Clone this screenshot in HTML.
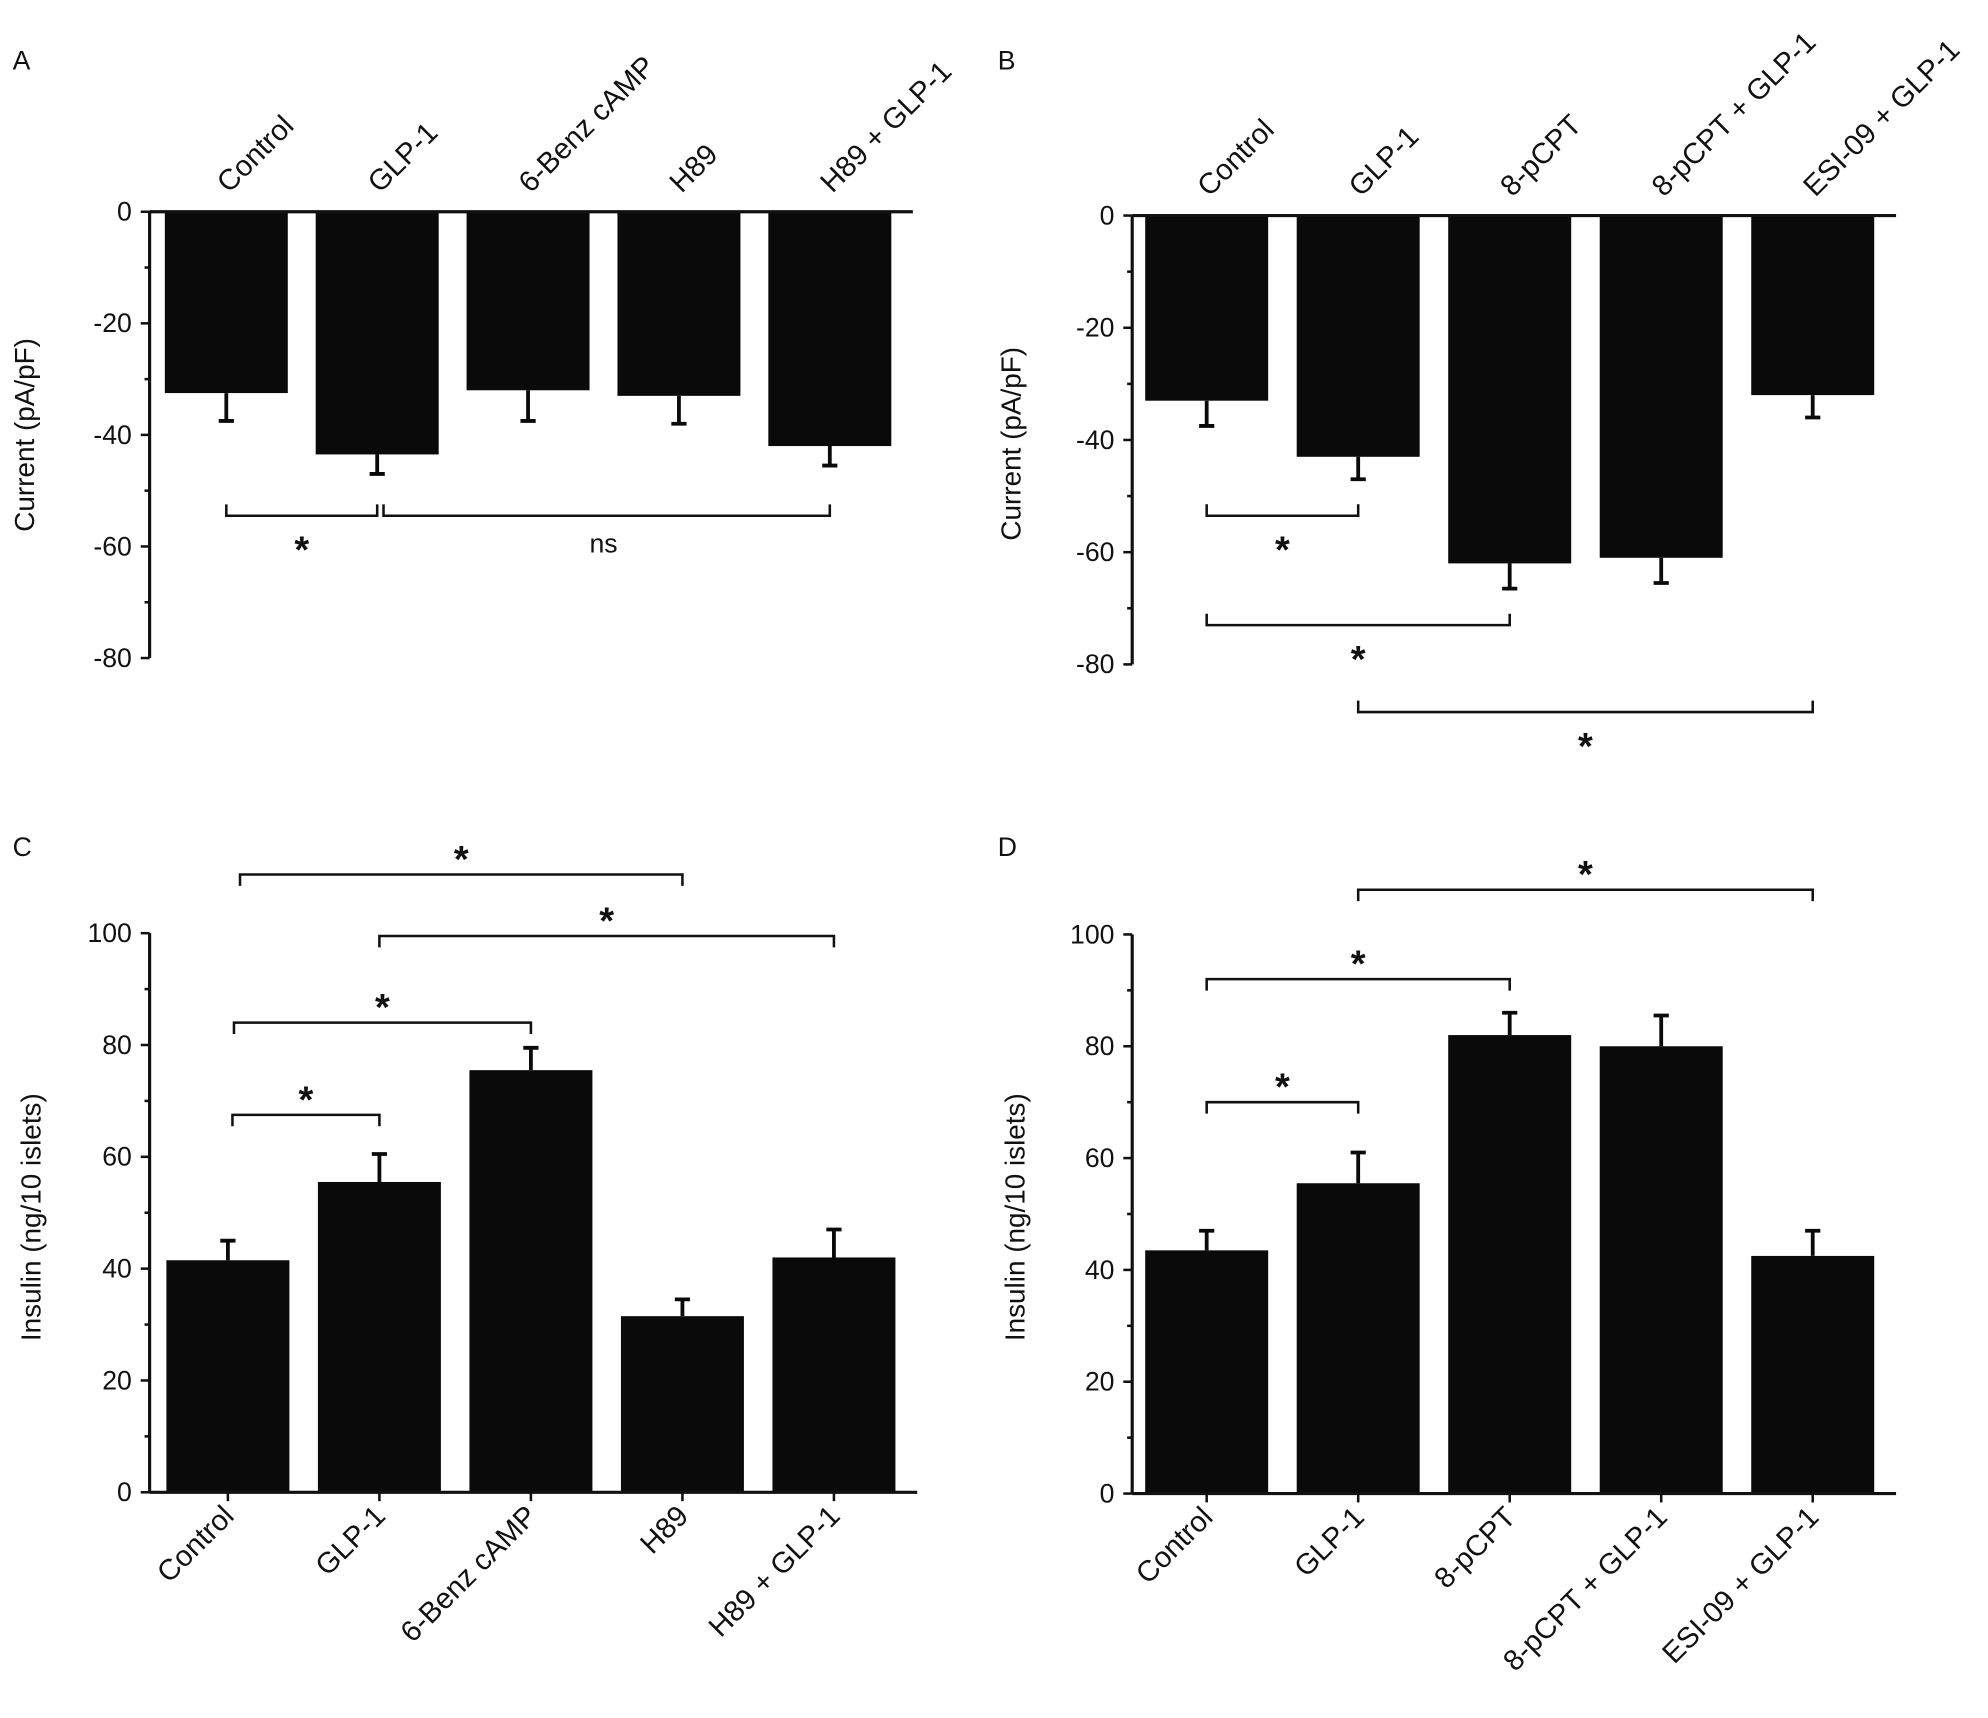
<!DOCTYPE html>
<html><head><meta charset="utf-8"><style>
html,body{margin:0;padding:0;background:#fff}
svg{display:block}
text{font-family:"Liberation Sans",Arial,sans-serif;fill:#111}
</style></head><body>
<svg id="fig" width="1988" height="1718" viewBox="0 0 1568 1355" xmlns="http://www.w3.org/2000/svg"></svg>
<script>
const catsAC = ["Control","GLP-1","6-Benz cAMP","H89","H89 + GLP-1"];
const catsBD = ["Control","GLP-1","8-pCPT","8-pCPT + GLP-1","ESI-09 + GLP-1"];
const valsA = [-32.5,-43.5,-32,-33,-42];
const errA = [-37.5,-47,-37.5,-38,-45.5];
const valsB = [-33,-43,-62,-61,-32];
const errB = [-37.5,-47,-66.5,-65.5,-36];
const valsC = [41.5,55.5,75.5,31.5,42];
const errC = [45,60.5,79.5,34.5,47];
const valsD = [43.5,55.5,82,80,42.5];
const errD = [47,61,86,85.5,47];
const ticksNeg = [0,-20,-40,-60,-80];
const ticksPos = [0,20,40,60,80,100];
// brackets: [fromIndex, toIndex, yValue, label]
const brA = [[0,1,-54.5,"*"],[1,4,-54.5,"ns"]];
const brB = [[0,1,-53.5,"*"],[0,2,-73,"*"],[1,4,-88.5,"*"]];
const brC = [[0.08,3,110.5,"*"],[1,4,99.5,"*"],[0.04,2,84,"*"],[0.03,1,67.5,"*"]];
const brD = [[1,4,108,"*"],[0,2,92,"*"],[0,1,70,"*"]];

const NS="http://www.w3.org/2000/svg";
const svg=document.getElementById('fig');
function el(tag,attrs,parent){const e=document.createElementNS(NS,tag);for(const k in attrs)e.setAttribute(k,attrs[k]);(parent||svg).appendChild(e);return e;}

function panel(o){
  const g=el('g',{});
  
  
  const y=v=>o.y0+(v-0)*(o.y1-o.y0)/(o.v1);
  const xc=i=>o.x0+o.step*(i+0.5);
  const bw=97;
  o.vals.forEach((v,i)=>{
    const ya=y(0),yb=y(v);
    const r=el('rect',{x:xc(i)-bw/2,y:Math.min(ya,yb),width:bw,height:Math.abs(yb-ya),fill:'#0a0a0a'},g);
    
    
    const ye=y(o.err[i]);
    const eb=el('path',{d:`M${xc(i)} ${yb} V${ye} M${xc(i)-6} ${ye} H${xc(i)+6}`,stroke:'#0a0a0a','stroke-width':3,fill:'none'},g);
    
    
  });
  const ymin=Math.min(...o.ticks),ymax=Math.max(...o.ticks);
  const ax=el('line',{x1:o.ax,x2:o.ax,y1:y(ymax),y2:y(ymin),stroke:'#111','stroke-width':2.5},g);
  
  
  for(let v=ymin;v<=ymax;v+=10){
    const major=o.ticks.includes(v);
    el('line',{x1:o.ax-(major?7:4),x2:o.ax,y1:y(v),y2:y(v),stroke:'#111','stroke-width':2},g);
  }
  o.ticks.forEach(v=>{
    const t=el('text',{x:o.ax-14,y:y(v)+7,'text-anchor':'end','font-size':21},g);
    t.textContent=v;
    
    
  });
  const xa=el('line',{x1:o.ax,x2:o.x0+o.step*5+6,y1:y(0),y2:y(0),stroke:'#111','stroke-width':2.5},g);
  
  
  o.cats.forEach((c,i)=>{
    const top=o.top;
    const lx=xc(i)+(top?2:6), ly=top?y(0)-14:y(0)+20;
    if(!top) el('line',{x1:xc(i),x2:xc(i),y1:y(0),y2:y(0)+7,stroke:'#111','stroke-width':2},g);
    const t=el('text',{x:lx,y:ly,'font-size':23,'text-anchor':top?'start':'end',transform:`rotate(-45 ${lx} ${ly})`},g);
    t.textContent=c;
    
    
  });
  const tt=el('text',{x:o.tx,y:o.ty,'font-size':22,'text-anchor':'middle',transform:`rotate(-90 ${o.tx} ${o.ty})`},g);
  tt.textContent=o.title;
  
  
  const L=el('text',{x:o.lx,y:o.ly,'font-size':21},g);
  L.textContent=o.letter;
  
  
  o.br.forEach(b=>{
    const xa1=xc(0)+(xc(1)-xc(0))*b[0], xb1=xc(0)+(xc(1)-xc(0))*b[1];
    const yy=y(b[2]); const d=o.top?-9:9;
    const p=el('path',{d:`M${xa1+(b[3]=="ns"&&b[0]>0?5:0)} ${yy+d} V${yy} H${xb1} V${yy+d}`,stroke:'#111','stroke-width':2,fill:'none'},g);
    
    
    const mx=(xa1+xb1)/2;
    const st=el('text',{x:mx,y:o.top?yy+(b[3]=="ns"?29:37):yy-2,'text-anchor':'middle','font-size':b[3]=="ns"?21:30,'font-weight':b[3]=="ns"?'normal':'bold'},g);
    st.textContent=b[3];
    
    
  });
}
panel({letter:'A',lx:10,ly:55,cats:catsAC,vals:valsA,err:errA,ticks:ticksNeg,y0:167,y1:519,v1:-80,ax:118,x0:119,step:119,top:true,br:brA,title:'Current (pA/pF)',tx:27,ty:343});
panel({letter:'B',lx:787,ly:55,cats:catsBD,vals:valsB,err:errB,ticks:ticksNeg,y0:170,y1:524,v1:-80,ax:893,x0:892,step:119.5,top:true,br:brB,title:'Current (pA/pF)',tx:805,ty:350});
panel({letter:'C',lx:10,ly:675,cats:catsAC,vals:valsC,err:errC,ticks:ticksPos,y0:1177,y1:736,v1:100,ax:118,x0:120,step:119.5,top:false,br:brC,title:'Insulin (ng/10 islets)',tx:32,ty:960});
panel({letter:'D',lx:787,ly:675,cats:catsBD,vals:valsD,err:errD,ticks:ticksPos,y0:1178,y1:737,v1:100,ax:893,x0:892,step:119.5,top:false,br:brD,title:'Insulin (ng/10 islets)',tx:808,ty:960});
</script>
</body></html>
